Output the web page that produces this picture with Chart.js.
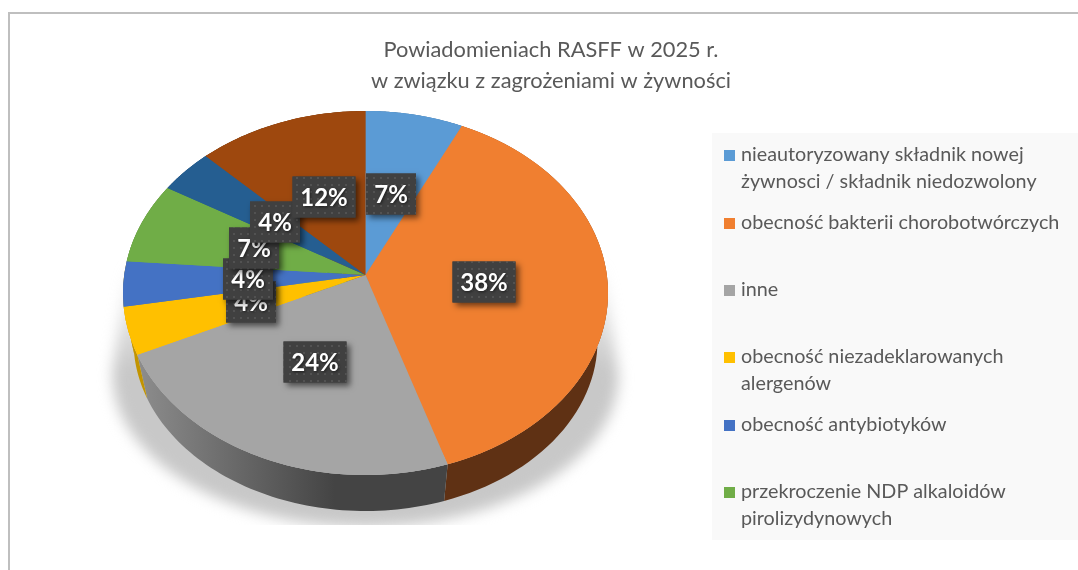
<!DOCTYPE html>
<html lang="pl"><head><meta charset="utf-8">
<script src="https://cdn.jsdelivr.net/npm/chart.js@4/dist/chart.umd.js"></script>
<style>html,body{margin:0;padding:0;background:#fff;overflow:hidden}canvas{display:block}</style>
</head><body><canvas id="c" width="1078" height="570"></canvas>
<script>
const titleLines = ['Powiadomieniach RASFF w 2025 r.', 'w związku z zagrożeniami w żywności'];
const categories = [
  'nieautoryzowany składnik nowej żywnosci / składnik niedozwolony',
  'obecność bakterii chorobotwórczych',
  'inne',
  'obecność niezadeklarowanych alergenów',
  'obecność antybiotyków',
  'przekroczenie NDP alkaloidów pirolizydynowych',
  '', ''
];
const values = [6.5, 38.0, 25.0, 4.3, 4.0, 7.0, 3.75, 11.45];
const valueLabels = ['7%', '38%', '24%', '4%', '4%', '7%', '4%', '12%'];
const legendLines = [
  ['nieautoryzowany składnik nowej', 'żywnosci / składnik niedozwolony'],
  ['obecność bakterii chorobotwórczych'],
  ['inne'],
  ['obecność niezadeklarowanych', 'alergenów'],
  ['obecność antybiotyków'],
  ['przekroczenie NDP alkaloidów', 'pirolizydynowych']
];
const colors = ['#5B9BD5','#F07F30','#A5A5A5','#FFC000','#4472C4','#70AD47','#255E91','#9E480E'];
const wallColors = ['#2f5d87','#5f3114','#555555','#c29400','#c29400','#466e2c','#173b5c','#63300a'];

// layout of the picture (not data)
const TOP = {cx:365.5, cy:293, rx:242.5, ry:182, ax:365.5, ay:275};
const BOT = {cx:365.5, cy:341, rx:232, ry:170};
const legendRowY = [155,223,290,357,425,492];
const labelCentres = [[391,194],[484,282],[315,362],[251,302],[248,279],[254,248],[275,222],[324,197]];
const FONT = 'Lato, "Open Sans", sans-serif';

function dotPattern(ctx){
  const p = document.createElement('canvas'); p.width = 7; p.height = 7;
  const g = p.getContext('2d');
  g.fillStyle = '#404040'; g.fillRect(0,0,7,7);
  g.fillStyle = '#525252'; g.fillRect(2,2,2,2);
  return ctx.createPattern(p,'repeat');
}

const scene = {
  id:'scene',
  beforeDraw(chart){
    const ctx = chart.ctx;
    ctx.save();
    ctx.fillStyle = '#fff'; ctx.fillRect(0,0,1078,570);
    ctx.fillStyle = '#bfbfbf';
    ctx.fillRect(8,12,1070,2); ctx.fillRect(8,12,2,558);
    ctx.fillStyle = '#f9f9f9'; ctx.fillRect(712,133,366,407);
    ctx.restore();
  },
  beforeDatasetsDraw(chart){
    const ctx = chart.ctx, arcs = chart.getDatasetMeta(0).data;
    // soft ground shadow
    ctx.save();
    ctx.beginPath(); ctx.rect(0,250,700,275); ctx.clip();
    ctx.filter = 'blur(7px)';
    const g = ctx.createLinearGradient(0,262,0,370);
    g.addColorStop(0,'rgba(200,200,200,0)'); g.addColorStop(1,'rgba(200,200,200,1)');
    ctx.fillStyle = g;
    ctx.beginPath();
    ctx.moveTo(128,262); ctx.lineTo(112,375);
    ctx.ellipse(365.5,375,253,152,0,Math.PI,0,true);
    ctx.lineTo(603,262); ctx.closePath(); ctx.fill();
    ctx.restore();
    // side wall, one piece per slice
    arcs.forEach((a,i)=>{
      const n = 60; ctx.beginPath();
      for(let k=0;k<=n;k++){ const t=a.startAngle+(a.endAngle-a.startAngle)*k/n;
        const x=TOP.cx+TOP.rx*Math.cos(t), y=TOP.cy+TOP.ry*Math.sin(t);
        k?ctx.lineTo(x,y):ctx.moveTo(x,y); }
      for(let k=n;k>=0;k--){ const t=a.startAngle+(a.endAngle-a.startAngle)*k/n;
        ctx.lineTo(BOT.cx+BOT.rx*Math.cos(t), BOT.cy+BOT.ry*Math.sin(t)); }
      ctx.closePath();
      if(i===2){ const w=ctx.createLinearGradient(140,0,335,0);
        w.addColorStop(0,'#8c8c8c'); w.addColorStop(1,'#444444'); ctx.fillStyle=w; }
      else ctx.fillStyle = wallColors[i];
      ctx.fill();
    });
    // library arcs are painted in an elliptical view
    const a0 = arcs[0], R = a0.outerRadius;
    ctx.save();
    ctx.translate(TOP.cx,TOP.cy); ctx.scale(TOP.rx/R,TOP.ry/R); ctx.translate(-a0.x,-a0.y);
    chart.$view = true;
  },
  afterDatasetsDraw(chart){
    const ctx = chart.ctx, arcs = chart.getDatasetMeta(0).data;
    if(chart.$view){ ctx.restore(); chart.$view=false; }
    // perspective: slices meet at the raised apex
    arcs.forEach((a,i)=>{
      ctx.beginPath(); ctx.moveTo(TOP.ax,TOP.ay);
      ctx.ellipse(TOP.cx,TOP.cy,TOP.rx,TOP.ry,0,a.startAngle,a.endAngle);
      ctx.closePath(); ctx.fillStyle=colors[i]; ctx.fill();
    });
    // data labels
    const pat = dotPattern(ctx);
    valueLabels.forEach((t,i)=>{
      const [x,y]=labelCentres[i];
      const w = t.length>2?63:50, h=41;
      ctx.save();
      ctx.shadowColor='rgba(0,0,0,.55)'; ctx.shadowBlur=6; ctx.shadowOffsetX=3; ctx.shadowOffsetY=3;
      ctx.fillStyle='#404040'; ctx.fillRect(x-w/2,y-h/2,w,h);
      ctx.restore();
      ctx.fillStyle=pat; ctx.fillRect(x-w/2,y-h/2,w,h);
      ctx.save();
      ctx.font='bold 24px '+FONT; ctx.textAlign='center'; ctx.textBaseline='middle';
      ctx.shadowColor='rgba(0,0,0,.6)'; ctx.shadowBlur=3; ctx.shadowOffsetX=1; ctx.shadowOffsetY=1;
      ctx.fillStyle='#fff'; ctx.fillText(t,x,y+1);
      ctx.restore();
    });
    // legend
    ctx.save();
    ctx.font='19.75px '+FONT; ctx.textBaseline='middle'; ctx.textAlign='left';
    legendLines.forEach((lines,i)=>{
      ctx.fillStyle=colors[i]; ctx.fillRect(724,legendRowY[i]-5,11,11);
      ctx.fillStyle='#595959';
      lines.forEach((s,k)=>ctx.fillText(s,741,legendRowY[i]+k*27));
    });
    ctx.restore();
  }
};

new Chart(document.getElementById('c'),{
  type:'pie',
  data:{labels:categories,datasets:[{data:values,backgroundColor:colors,borderWidth:0}]},
  options:{
    responsive:false,animation:false,
    layout:{padding:{left:24,top:35}},
    plugins:{
      legend:{display:false},tooltip:{enabled:false},
      title:{display:true,text:titleLines,color:'#595959',
        font:{family:FONT,size:21.8,weight:'normal',lineHeight:1.4},padding:{top:0,bottom:10}}
    }
  },
  plugins:[scene]
});
</script></body></html>
